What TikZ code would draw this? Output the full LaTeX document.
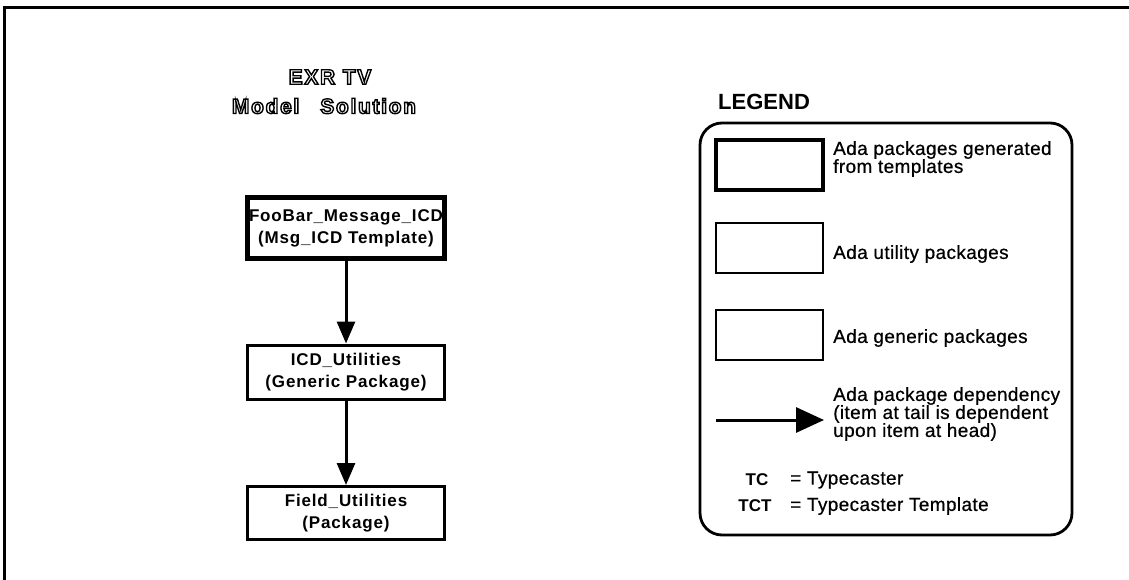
\documentclass[tikz,border=0pt]{standalone}
\usepackage{fontspec}
\setmainfont{Liberation Sans}
\newfontfamily\boxfont[LetterSpace=5]{Liberation Sans}
\newfontfamily\titlefont[LetterSpace=8]{Liberation Sans}
\newfontfamily\keyfont[FakeBold=0.6, LetterSpace=2]{Liberation Sans}
\usetikzlibrary{arrows.meta}
% hollow (outline) lettering for the title
\newcommand{\hollowtext}[1]{\special{pdf:literal direct 1 Tr 1.4 w}#1\special{pdf:literal direct 0 Tr}}
\tikzset{
  pkg/.style={draw, line width=3pt, minimum width=197pt, minimum height=54pt, align=center, inner sep=0pt, font=\boxfont\bfseries\fontsize{17}{22}\selectfont},
  tmpl/.style={pkg, line width=4.6pt},
  keybox/.style={draw, line width=2.8pt, minimum width=107pt, minimum height=50pt, inner sep=0pt},
  keytmpl/.style={keybox, line width=4.4pt},
  keytext/.style={anchor=west, align=left, inner sep=0pt, font=\keyfont\fontsize{19}{18}\selectfont},
  dep/.style={-{Triangle[width=18pt,length=22pt]}, line width=3pt}
}
\begin{document}
\begin{tikzpicture}[x=1pt, y=-1pt]
    \useasboundingbox (0,0) rectangle (1129,580);
    % frame
    \draw[line width=3pt] (4,580) -- (4,8) -- (1129,8);
    % title
    \node[font=\titlefont\bfseries\fontsize{21}{22}\selectfont] (t1) at (330,77) {\hollowtext{EXR TV}};
    \node[font=\titlefont\bfseries\fontsize{21}{22}\selectfont] (t2) at (324,106) {\hollowtext{Model\quad Solution}};
    % packages
    \node[tmpl, minimum height=61pt] (icd) at (346,228) {FooBar\_Message\_ICD\\(Msg\_ICD Template)};
    \node[pkg] (util) at (346,372) {ICD\_Utilities\\(Generic Package)};
    \node[pkg, minimum height=53pt] (field) at (346,513) {Field\_Utilities\\(Package)};
    \draw[dep] (icd) -- (util);
    \draw[dep] (util) -- (field);
    % legend
    \node[anchor=west, inner sep=0pt, font=\bfseries\fontsize{22}{24}\selectfont] (lg) at (718,102) {LEGEND};
    \draw[line width=2.8pt, rounded corners=22pt] (700,123) rectangle (1072,535);
    \node[keytmpl] (k1) at (769.5,165) {};
    \node[keybox] (k2) at (769.5,248) {};
    \node[keybox] (k3) at (769.5,335) {};
    \node[keytext] (d1) at (833,159) {Ada packages generated\\from templates};
    \node[keytext] (d2) at (833,254) {Ada utility packages};
    \node[keytext] (d3) at (833,338) {Ada generic packages};
    \coordinate (a1) at (716,420);
    \coordinate (a2) at (824,420);
    \draw[dep, -{Triangle[width=25pt,length=28pt]}] (a1) -- (a2);
    \node[keytext] (d4) at (833,414) {Ada package dependency\\(item at tail is dependent\\upon item at head)};
    \node[inner sep=0pt, font=\bfseries\fontsize{17}{18}\selectfont] (tc) at (757,480) {TC};
    \node[keytext] (tcd) at (790,480) {= Typecaster};
    \node[inner sep=0pt, font=\bfseries\fontsize{17}{18}\selectfont] (tct) at (755,506) {TCT};
    \node[keytext] (tctd) at (790,506) {= Typecaster Template};
\end{tikzpicture}
\end{document}
